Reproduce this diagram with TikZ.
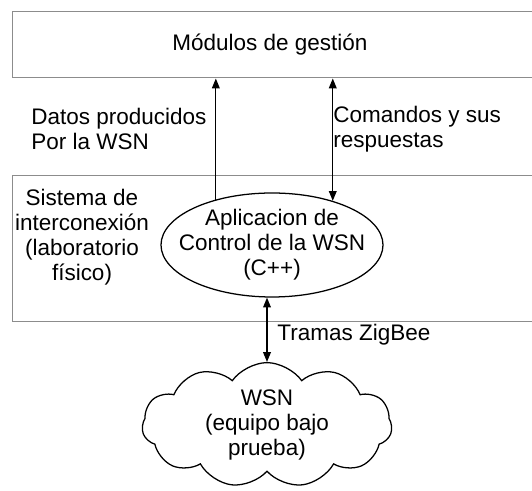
\documentclass[tikz,border=0pt]{standalone}
\usepackage{fontspec}
\setmainfont{Liberation Sans}
\usepackage{tikz}
\usetikzlibrary{arrows.meta}
\usetikzlibrary{positioning}
\usetikzlibrary{shapes.geometric}
\usetikzlibrary{shapes.symbols}
\definecolor{boxgray}{RGB}{140,140,140}
\tikzset{
	box/.style={draw=boxgray, line width=0.7pt, rectangle, inner sep=0pt},
	txt/.style={inner sep=0pt, font=\fontsize{16}{17.8}\selectfont},
	flow/.style={line width=0.9pt, -{Triangle[length=7pt,width=5.5pt]}},
	both/.style={line width=0.9pt, {Triangle[length=7pt,width=5.5pt]}-{Triangle[length=7pt,width=5.5pt]}}
}
\begin{document}
\begin{tikzpicture}
				\useasboundingbox (0,0) rectangle (13.3,12.275);
				\node[box, minimum width=13.4cm, minimum height=1.65cm] (mod) at (7,11.15) {};
				\node[txt] (modtxt) at (6.75,11.15) {Módulos de gestión};
				\node[box, minimum width=13.4cm, minimum height=3.65cm] (sis) at (7,6.05) {};
				
				\node[txt, draw, line width=0.9pt, ellipse, inner xsep=-0.6cm, inner ysep=-0.1cm, minimum width=5.55cm, minimum height=2.6cm, align=center] (ctrl) at (6.8,6.15) {Aplicacion de\\Control de la WSN\\(C++)};
				\node[txt, draw, line width=0.9pt, cloud, cloud puffs=11, cloud puff arc=110, aspect=2, minimum width=6.25cm, minimum height=3.1cm, align=center] (wsn) at (6.675,1.65) {WSN\\(equipo bajo\\prueba)};
				
				\node[txt, anchor=west, align=left] (datos) at (0.78,9.05) {Datos producidos\\Por la WSN};
				\node[txt, anchor=west, align=left] (cmds) at (8.33,9.05) {Comandos y sus\\respuestas};
				\node[txt, align=center] (lab) at (2.05,6.35) {Sistema de\\interconexión\\(laboratorio\\físico)};
				\node[txt, anchor=west] (tramas) at (6.93,3.9) {Tramas ZigBee};
				
				\draw[flow] (ctrl.141) -- (ctrl.141 |- mod.south);
				\draw[both] (ctrl.36 |- mod.south) -- (ctrl.36);
				\draw[both] (wsn.north |- ctrl.south) -- (wsn.north);
			\end{tikzpicture}
\end{document}
